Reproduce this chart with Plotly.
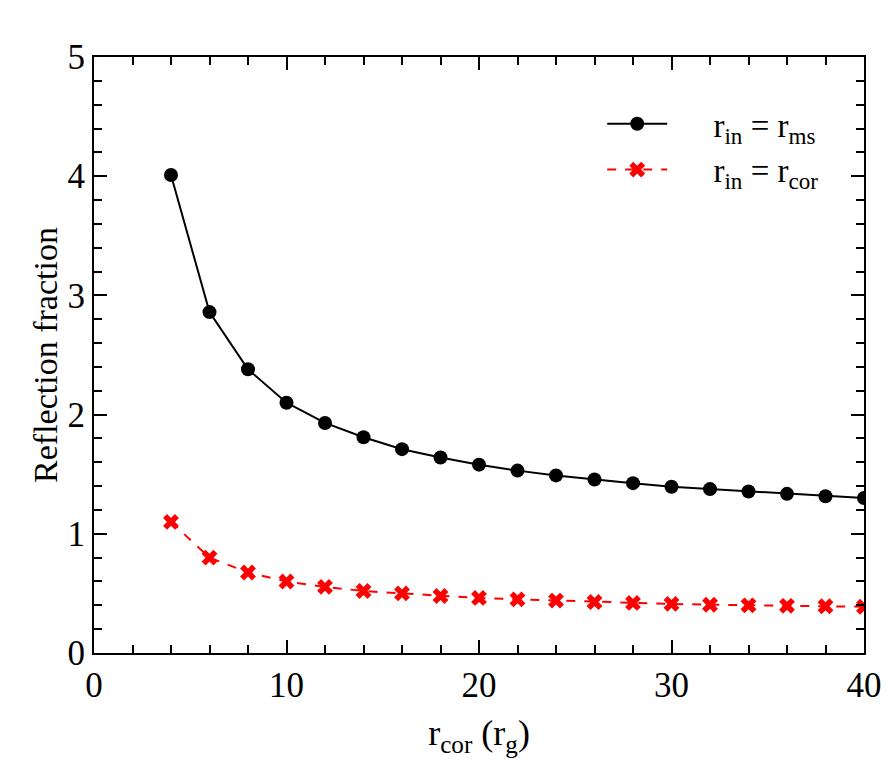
import plotly.graph_objects as go

r_cor = [4, 6, 8, 10, 12, 14, 16, 18, 20, 22, 24, 26, 28, 30, 32, 34, 36, 38, 40]
refl_ms = [4.01, 2.86, 2.38, 2.10, 1.93, 1.81, 1.71, 1.64, 1.58, 1.53, 1.49, 1.455, 1.425, 1.395, 1.375, 1.355, 1.335, 1.315, 1.30]
refl_cor = [1.10, 0.80, 0.675, 0.60, 0.555, 0.52, 0.50, 0.478, 0.462, 0.45, 0.44, 0.428, 0.42, 0.412, 0.405, 0.40, 0.396, 0.392, 0.388]

name_ms = "\u00a0\u00a0\u00a0\u00a0\u00a0r<sub>in</sub> = r<sub>ms</sub>"
name_cor = "\u00a0\u00a0\u00a0\u00a0\u00a0r<sub>in</sub> = r<sub>cor</sub>"

font = "Liberation Serif, Times New Roman, serif"

fig = go.Figure()
fig.add_trace(go.Scatter(x=r_cor, y=refl_ms, mode="lines+markers", name=name_ms,
                         line=dict(color="black", width=2),
                         marker=dict(symbol="circle", size=14, color="black")))
fig.add_trace(go.Scatter(x=r_cor, y=refl_cor, mode="lines+markers", name=name_cor,
                         line=dict(color="red", width=2, dash="dash"),
                         marker=dict(symbol="x", size=14, color="red")))

axis_common = dict(showline=True, linecolor="black", linewidth=2, mirror="allticks",
                   ticks="inside", ticklen=13, tickwidth=1.5, tickcolor="black",
                   showgrid=False, zeroline=False,
                   tickfont=dict(family=font, size=35, color="black"))

fig.update_xaxes(range=[0, 40], tickvals=[0, 10, 20, 30, 40],
                 minor=dict(tickvals=[2, 4, 6, 8, 12, 14, 16, 18, 22, 24, 26, 28, 32, 34, 36, 38],
                            ticks="inside", ticklen=8, tickwidth=1.5, tickcolor="black"),
                 title=dict(text="r<sub>cor</sub> (r<sub>g</sub>)", font=dict(family=font, size=36, color="black"), standoff=16),
                 **axis_common)
fig.update_yaxes(range=[0, 5], tickvals=[0, 1, 2, 3, 4, 5],
                 minor=dict(dtick=0.2, ticks="inside", ticklen=8, tickwidth=1.5, tickcolor="black"),
                 title=dict(text="Reflection fraction", font=dict(family=font, size=34, color="black"), standoff=0),
                 **axis_common)

fig.update_layout(
    width=894, height=765,
    margin=dict(l=94, r=26, t=57, b=112),
    plot_bgcolor="white", paper_bgcolor="white",
    font=dict(family=font, color="black"),
    legend=dict(x=0.66, y=0.935, xanchor="left", yanchor="top",
                bgcolor="rgba(0,0,0,0)", font=dict(family=font, size=33, color="black"),
                itemwidth=60),
    showlegend=True,
)

fig.write_html("out.html")
